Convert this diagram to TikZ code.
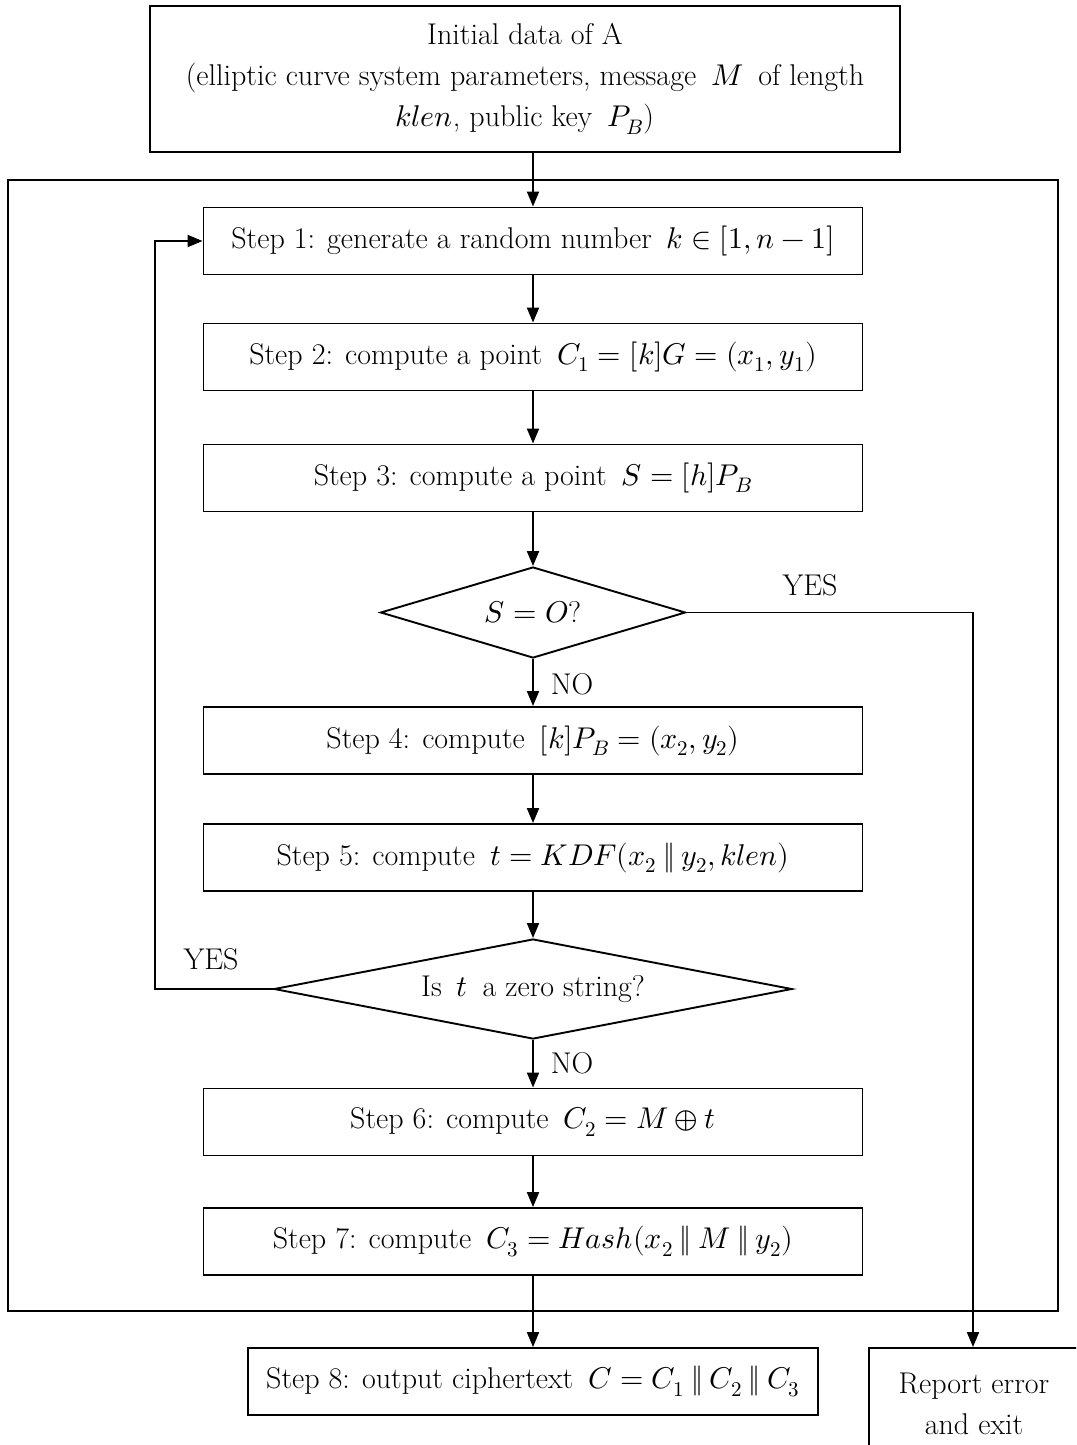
\documentclass[tikz,border=0pt]{standalone}
\usepackage{unicode-math}
\usetikzlibrary{shapes.geometric,arrows.meta}
\newcommand{\cat}{\mathbin{\Vert}}
\begin{document}
\begin{tikzpicture}[x=1pt,y=-1pt,
  every node/.style={font=\fontsize{30}{41}\selectfont},
  stepbox/.style={draw,line width=1.9pt,minimum width=659pt,minimum height=67pt,inner sep=0pt},
  decision/.style={draw,diamond,line width=1.9pt,inner sep=0pt},
  arr/.style={line width=1.9pt,-{Triangle[length=15pt,width=12pt]}},
  lbl/.style={inner sep=0pt}]
\clip (0,0) rectangle (1076,1445);
\node[draw,line width=1.9pt,minimum width=750pt,minimum height=146pt,inner sep=0pt,align=center] (init) at (525,79)
  {Initial data of A\\(elliptic curve system parameters, message\enspace$M$\enspace of length\\$klen$, public key\enspace$P_B$)};
\node[draw,line width=1.9pt,minimum width=1050pt,minimum height=1131pt,inner sep=0pt] (frame) at (533,745.5) {};
\node[stepbox] (s1) at (533,241) {Step 1: generate a random number\enspace$k\in[1,n-1]$};
\node[stepbox] (s2) at (533,357) {Step 2: compute a point\enspace$C_1=[k]G=(x_1,y_1)$};
\node[stepbox] (s3) at (533,478) {Step 3: compute a point\enspace$S=[h]P_B$};
\node[decision,aspect=3.35,minimum width=305pt,minimum height=91pt] (d1) at (533,612.5) {$S=O$?};
\node[stepbox] (s4) at (533,740.5) {Step 4: compute\enspace$[k]P_B=(x_2,y_2)$};
\node[stepbox] (s5) at (533,857.5) {Step 5: compute\enspace$t=KDF(x_2\cat y_2,klen)$};
\node[decision,aspect=5.18,minimum width=518pt,minimum height=100pt] (d2) at (533,989) {Is\enspace$t$\enspace a zero string?};
\node[stepbox] (s6) at (533,1122) {Step 6: compute\enspace$C_2=M\oplus t$};
\node[stepbox] (s7) at (533,1241.5) {Step 7: compute\enspace$C_3=Hash(x_2\cat M\cat y_2)$};
\node[draw,line width=1.9pt,minimum width=570pt,minimum height=67pt,inner sep=0pt] (s8) at (533,1381.5)
  {Step 8: output ciphertext\enspace$C=C_1\cat C_2\cat C_3$};
\node[draw,line width=1.9pt,minimum width=210pt,minimum height=112pt,inner sep=0pt,align=center] (rep) at (974,1404)
  {Report error\\and exit};
\coordinate (c1) at (973,612.5);
\coordinate (c2) at (155,989);
\draw[arr] (init.south -| s1.north) -- (s1.north);
\draw[arr] (s1) -- (s2);
\draw[arr] (s2) -- (s3);
\draw[arr] (s3) -- (d1.north);
\draw[arr] (d1.south) -- (s4.north);
\draw[arr] (s4) -- (s5);
\draw[arr] (s5.south) -- (d2.north);
\draw[arr] (d2.south) -- (s6.north);
\draw[arr] (s6) -- (s7);
\draw[arr] (s7.south) -- (s8.north);
\draw[arr] (d1.east) -- (c1) -- (c1 |- rep.north);
\draw[arr] (d2.west) -- (c2) |- (s1.west);
\node[lbl] (yes1) at (810,585) {YES};
\node[lbl] (no1) at (572,684) {NO};
\node[lbl] (yes2) at (211,959) {YES};
\node[lbl] (no2) at (572,1063) {NO};
\end{tikzpicture}
\end{document}
